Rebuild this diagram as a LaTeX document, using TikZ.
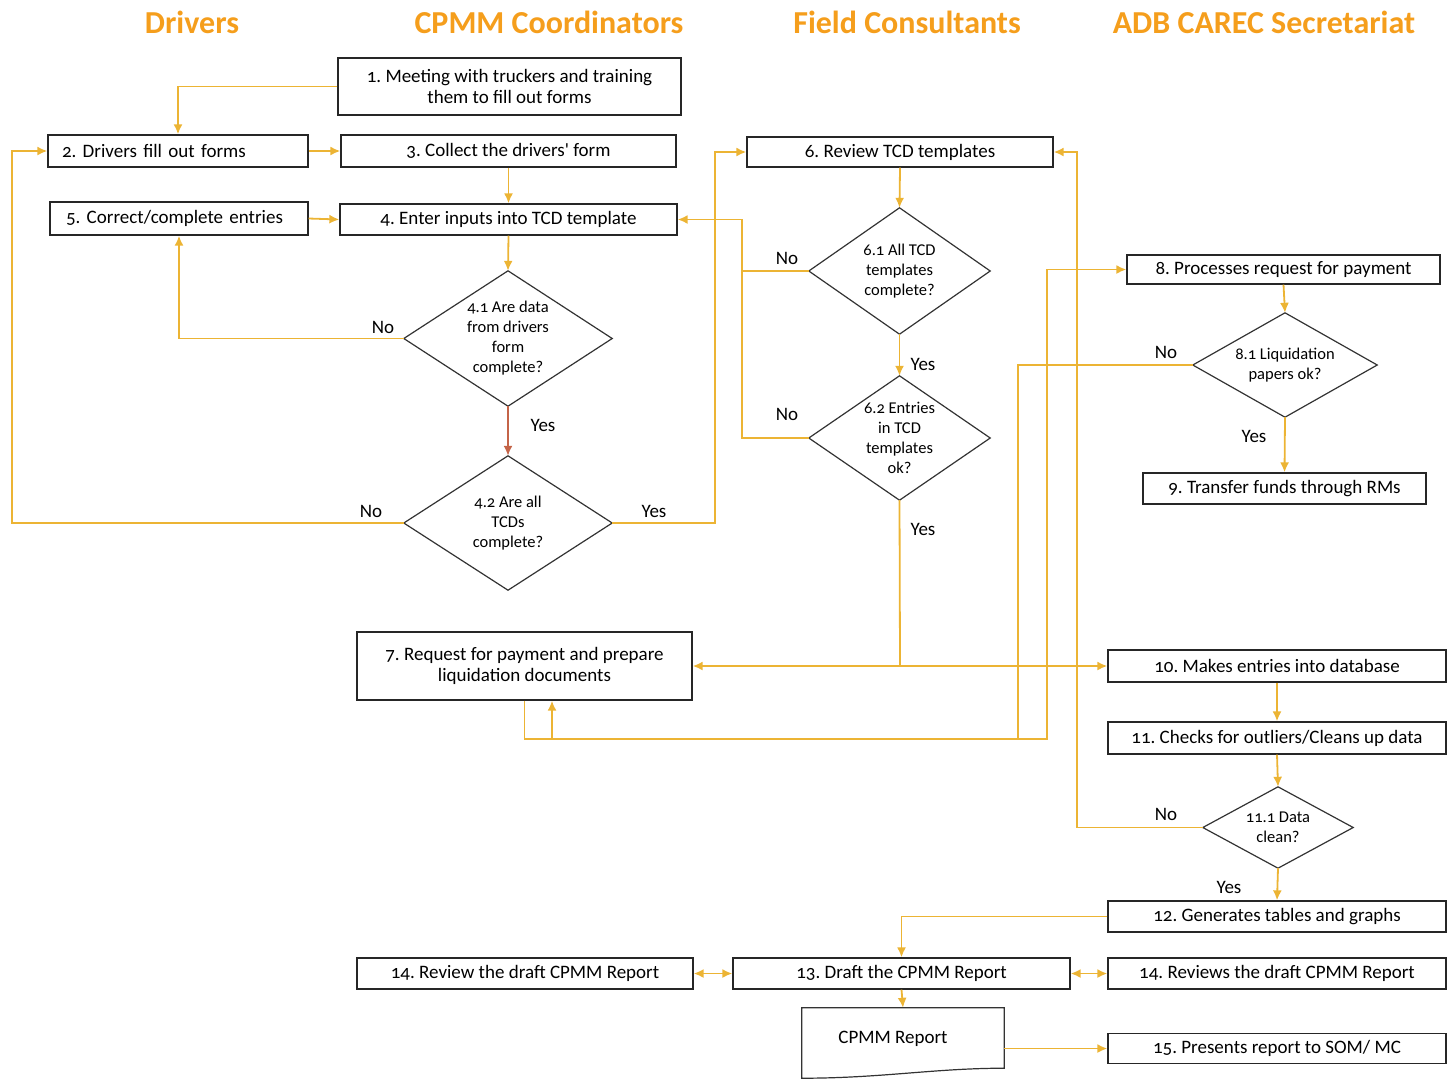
\documentclass[tikz,border=0pt]{standalone}
\usepackage{fontspec}
\setmainfont{Carlito}
\newfontfamily\bodyfont{Carlito}[Numbers=OldStyle]
\usetikzlibrary{arrows.meta,calc}
\definecolor{gold}{RGB}{236,180,52}
\definecolor{hdr}{RGB}{245,158,28}
\definecolor{rust}{RGB}{196,100,72}
\frenchspacing
\begin{document}
\begin{tikzpicture}[x=1pt,y=-1pt,
  box/.style={draw=black!85, line width=1.3pt, inner sep=0pt, align=center,
    font=\bodyfont\fontsize{19}{21}\selectfont},
  dia/.style={inner sep=0pt, align=center, font=\bodyfont\fontsize{16.5}{20}\selectfont},
  dshape/.style={draw=black!80, line width=1.2pt, line join=miter},
  lbl/.style={font=\bodyfont\fontsize{19}{21}\selectfont},
  hd/.style={font=\bfseries\fontsize{32}{36}\selectfont, text=hdr},
  conn/.style={draw=gold, line width=1.8pt},
  arr/.style={conn, -{Latex[length=10pt,width=9pt]}},
  arr2/.style={conn, {Latex[length=10pt,width=9pt]}-{Latex[length=10pt,width=9pt]}},
  redarr/.style={draw=rust, line width=1.8pt, -{Latex[length=10pt,width=9pt]}},
]
\useasboundingbox (0,0) rectangle (1455,1080);

% headers
\node[hd] (h1) at (192,22) {Drivers};
\node[hd] (h2) at (549,22) {CPMM Coordinators};
\node[hd] (h3) at (907,22) {Field Consultants};
\node[hd] (h4) at (1264,22) {ADB CAREC Secretariat};

% boxes
\node[box, minimum width=343pt, minimum height=57pt] (n1) at (509.5,86.5)
  {1. Meeting with truckers and training\\them to fill out forms};
\node[box, minimum height=32pt, text width=232pt, inner xsep=14pt, align=left] (n2) at (178,151)
  {2. Drivers fill out forms};
\node[box, minimum width=335pt, minimum height=32pt] (n3) at (508.5,151)
  {3. Collect the drivers' form};
\node[box, minimum height=33pt, text width=226pt, inner xsep=16pt, align=left] (n5) at (179,218.5)
  {5. Correct/complete entries};
\node[box, minimum width=337pt, minimum height=31pt] (n4) at (508.5,219.5)
  {4. Enter inputs into TCD template};
\node[box, minimum width=306pt, minimum height=30pt] (n6) at (900,152)
  {6. Review TCD templates};
\node[box, minimum width=313pt, minimum height=29pt] (n8) at (1283.5,269.5)
  {8. Processes request for payment};
\node[box, minimum width=283pt, minimum height=31pt] (n9) at (1284.5,488.5)
  {9. Transfer funds through RMs};
\node[box, minimum width=335pt, minimum height=68pt] (n7) at (524.5,666)
  {7. Request for payment and prepare\\liquidation documents};
\node[box, minimum width=338pt, minimum height=32pt] (n10) at (1277,666)
  {10. Makes entries into database};
\node[box, minimum width=338pt, minimum height=32pt] (n11) at (1277,738)
  {11. Checks for outliers/Cleans up data};
\node[box, minimum width=338pt, minimum height=31pt] (n12) at (1277,916.5)
  {12. Generates tables and graphs};
\node[box, minimum width=336pt, minimum height=31pt] (n14a) at (525,973.5)
  {14. Review the draft CPMM Report};
\node[box, minimum width=337pt, minimum height=31pt] (n13) at (901.5,973.5)
  {13. Draft the CPMM Report};
\node[box, minimum width=338pt, minimum height=31pt] (n14b) at (1277,973.5)
  {14. Reviews the draft CPMM Report};
\node[box, minimum width=338pt, minimum height=30pt] (n15) at (1277,1048.5)
  {15. Presents report to SOM/ MC};

% document shape
\node[inner sep=0pt, minimum width=202pt, minimum height=60pt] (rep) at (903,1038) {};
\draw[dshape] (rep.north west) -- (rep.north east) -- (rep.south east)
  .. controls +(-70,0) and +(80,0) .. ($(rep.south west)+(0,10)$) -- cycle;
\node[lbl] (reptxt) at (893,1039) {CPMM Report};

% diamonds
\node[dia, minimum width=208pt, minimum height=135pt] (d41) at (508,338.5)
  {4.1 Are data\\from drivers\\form\\complete?};
\draw[dshape] (d41.north) -- (d41.east) -- (d41.south) -- (d41.west) -- cycle;
\node[dia, minimum width=208pt, minimum height=134pt] (d42) at (508,523)
  {4.2 Are all\\TCDs\\complete?};
\draw[dshape] (d42.north) -- (d42.east) -- (d42.south) -- (d42.west) -- cycle;
\node[dia, minimum width=181pt, minimum height=126pt] (d61) at (899.5,271)
  {6.1 All TCD\\templates\\complete?};
\draw[dshape] (d61.north) -- (d61.east) -- (d61.south) -- (d61.west) -- cycle;
\node[dia, minimum width=181pt, minimum height=124pt] (d62) at (899.5,438)
  {6.2 Entries\\in TCD\\templates\\ok?};
\draw[dshape] (d62.north) -- (d62.east) -- (d62.south) -- (d62.west) -- cycle;
\node[dia, minimum width=184pt, minimum height=104pt] (d81) at (1285,365)
  {8.1 Liquidation\\papers ok?};
\draw[dshape] (d81.north) -- (d81.east) -- (d81.south) -- (d81.west) -- cycle;
\node[dia, minimum width=150pt, minimum height=81pt] (d111) at (1278,827.5)
  {11.1 Data\\clean?};
\draw[dshape] (d111.north) -- (d111.east) -- (d111.south) -- (d111.west) -- cycle;

% helper coordinates
\coordinate (k1) at (12,523);
\coordinate (k2) at (715,523);
\coordinate (k3) at (742,271);
\coordinate (k4) at (900,666);
\coordinate (k6) at (1047,739);
\coordinate (k7) at (1018,739);
\coordinate (k8) at (552,739);
\coordinate (k9) at (1077,827.5);

% connectors
\draw[arr] (n1.west) -| (n2.north);
\draw[arr] (n2.east) -- (n3.west);
\draw[arr] (n5.east) -- (n4.west);
\draw[arr] (n3.south) -- (n4.north);
\draw[arr] (n4.south) -- (d41.north);
\draw[arr] (d41.west) -| (n5.south);
\draw[redarr] (d41.south) -- (d42.north);
\draw[arr] (d42.west) -- (k1) |- (n2.west);
\draw[arr] (d42.east) -- (k2) |- (n6.west);
\draw[arr] (n6.south) -- (d61.north);
\draw[arr] (d61.south) -- (d62.north);
\draw[arr] (d61.west) -- (k3) |- (n4.east);
\draw[conn] (d62.west) -| (k3);
\draw[conn] (d62.south) -- (k4);
\draw[arr] (k4) -- (n7.east);
\draw[arr] (k4) -- (n10.west);
\draw[arr] (n7.south) |- (k6) |- (n8.west);
\draw[arr] (n8.south) -- (d81.north);
\draw[arr] (d81.south) -- (n9.north);
\draw[arr] (d81.west) -| (k7) -- (k8) -- (k8 |- n7.south);
\draw[arr] (n10.south) -- (n11.north);
\draw[arr] (n11.south) -- (d111.north);
\draw[arr] (d111.south) -- (n12.north);
\draw[arr] (d111.west) -- (k9) |- (n6.east);
\draw[arr] (n12.west) -| (n13.north);
\draw[arr2] (n14a.east) -- (n13.west);
\draw[arr2] (n13.east) -- (n14b.west);
\draw[arr] (n13.south) -- (rep.north);
\draw[arr] (rep.east |- n15.west) -- (n15.west);

% labels
\node[lbl] (l1) at (383,327) {No};
\node[lbl] (l2) at (543,425) {Yes};
\node[lbl] (l3) at (371,511) {No};
\node[lbl] (l4) at (654,511) {Yes};
\node[lbl] (l5) at (787,258) {No};
\node[lbl] (l6) at (923,364) {Yes};
\node[lbl] (l7) at (787,414) {No};
\node[lbl] (l8) at (923,529) {Yes};
\node[lbl] (l9) at (1166,352) {No};
\node[lbl] (l10) at (1254,436) {Yes};
\node[lbl] (l11) at (1166,814) {No};
\node[lbl] (l12) at (1229,887) {Yes};
\end{tikzpicture}
\end{document}
